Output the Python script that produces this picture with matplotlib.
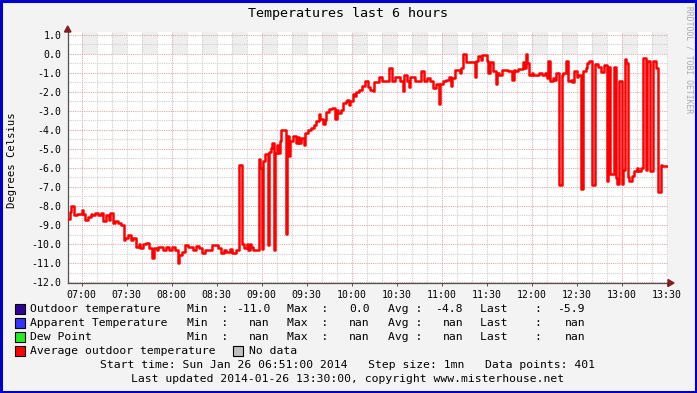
import matplotlib
matplotlib.use("Agg")
import matplotlib.pyplot as plt
from matplotlib.patches import Rectangle, Polygon
import datetime as dt

# minutes after 06:51 where the value changes, and the value from there on
minute = [0, 1, 2, 4, 6, 9, 10, 11, 13, 15, 16, 18, 20, 22, 23, 25, 27, 28, 30, 31,
          33, 35, 37, 38, 40, 42, 43, 45, 47, 48, 50, 52, 54, 56, 57, 59, 60, 63, 65, 67,
          69, 71, 73, 74, 76, 78, 80, 83, 85, 87, 89, 91, 96,
          100, 102, 104, 105, 108, 109, 112, 114, 116, 117, 119, 120, 121, 122, 123, 127, 128,
          129, 130, 131, 133, 134, 135, 136, 137, 138, 139, 140, 141, 142, 145, 146, 147, 148,
          150, 152, 153, 154, 155, 157, 158, 160, 162, 164, 165, 167, 168, 170, 171, 172, 174,
          176, 178, 179, 180, 182, 183, 185, 186, 187, 188, 190, 191, 192, 194, 196,
          198, 200, 201, 203, 204, 207, 209, 214, 216, 218, 221, 223, 224, 226, 227, 228, 231,
          235, 237, 239, 241, 243, 245, 247, 248, 250, 252, 254, 255, 256, 258, 261, 262, 263,
          265, 271, 272, 273, 275, 276, 279, 280, 281, 283, 285, 286, 287, 289, 293, 296, 297,
          298, 300, 303, 304, 305, 306, 307, 309, 310, 314, 316, 318, 319, 320, 321, 323, 324,
          325, 327, 329, 330, 332, 333, 335, 336, 337, 339, 340, 342, 343, 345, 346, 347, 349,
          351, 353, 355, 357, 359, 360, 361, 364, 365, 366, 367, 369, 370, 371, 372, 373, 374,
          376, 377, 379, 380, 382, 383, 385, 386, 388, 390, 392, 393, 395, 396]
temp = [-8.7, -8.3, -8.0, -8.5, -8.4, -8.2, -8.4, -8.75, -8.6, -8.4, -8.5, -8.35, -8.47, -8.35, -8.8, -8.5, -8.75, -8.35, -8.9, -8.8,
        -8.9, -9.0, -9.8, -9.7, -9.5, -9.8, -9.7, -10.15, -10.0, -10.2, -10.0, -9.95, -10.2, -10.75, -10.2, -10.3, -10.15, -10.3, -10.15, -10.3,
        -10.15, -10.3, -11.0, -10.6, -10.4, -10.05, -10.15, -10.3, -10.1, -10.2, -10.45, -10.3, -10.05,
        -10.2, -10.45, -10.3, -10.4, -10.25, -10.45, -10.3, -5.85, -10.0, -10.2, -10.0, -10.3, -10.0, -10.15, -10.3, -5.55, -6.0,
        -10.25, -5.65, -5.25, -10.05, -5.15, -4.95, -4.7, -10.3, -5.2, -4.8, -5.2, -4.6, -4.0, -9.45, -4.3, -5.35, -4.6,
        -4.3, -4.7, -4.35, -4.7, -4.45, -4.8, -4.15, -4.0, -3.9, -3.75, -3.55, -3.15, -3.4, -3.7, -3.5, -3.05, -2.9,
        -2.85, -3.4, -2.95, -3.1, -2.95, -2.6, -2.5, -2.4, -2.7, -2.5, -2.1, -2.2, -2.0, -1.9, -1.7,
        -1.45, -1.75, -1.9, -1.95, -1.5, -1.2, -1.45, -0.75, -1.45, -1.2, -1.45, -1.95, -1.1, -1.45, -1.75, -1.2, -1.45,
        -0.9, -1.45, -1.25, -1.45, -1.8, -1.6, -2.65, -1.6, -1.45, -1.35, -1.2, -1.7, -1.25, -0.85, -1.0, -0.75, 0.0,
        -0.45, -1.2, -0.4, -0.1, -0.3, -0.05, -0.4, -1.0, -0.45, -0.9, -1.6, -1.0, -1.1, -0.85, -0.9, -1.35, -0.85,
        -0.9, -0.82, -0.42, -0.75, 0.0, -0.47, -1.1, -1.0, -1.1, -1.0, -1.1, -1.0, -1.25, -0.4, -1.45, -1.25, -1.35,
        -1.0, -6.9, -1.1, -1.0, -0.4, -1.45, -1.35, -1.5, -0.9, -1.2, -1.1, -7.1, -0.88, -0.75, -0.47, -0.4, -6.9,
        -0.55, -0.7, -0.95, -0.6, -6.7, -0.7, -6.3, -0.67, -6.55, -6.85, -1.45, -6.85, -6.1, -0.25, -0.5, -6.45, -6.7,
        -6.4, -6.15, -6.0, -6.15, -6.0, -0.2, -6.1, -0.37, -6.15, -0.4, -0.72, -7.25, -5.85, -5.9]

legend_names = ["Outdoor temperature", "Apparent Temperature", "Dew Point"]
legend_colors = ["#330099", "#3333ff", "#22ee22"]
stat_min = ["-11.0", "nan", "nan"]
stat_max = ["0.0", "nan", "nan"]
stat_avg = ["-4.8", "nan", "nan"]
stat_last = ["-5.9", "nan", "nan"]

W, H = 697, 393
start = dt.datetime(2014, 1, 26, 6, 51)
mono = "DejaVu Sans Mono"


def fx(x):
    return x / W


def fy(y):
    return 1 - y / H


fig = plt.figure(figsize=(W / 100, H / 100), dpi=100, facecolor="#f3f3f3")
ax = fig.add_axes([fx(68), fy(283), 600 / W, (283 - 32) / H])
ax.set_facecolor("white")
ax.set_xlim(0, 400)
ax.set_ylim(-12.05, 1.15)

# alternating shaded blocks above zero
for m0 in range(9, 400, 20):
    ax.add_patch(Rectangle((m0, 0), 10, 1.15, facecolor="#eeeeee", edgecolor="none", zorder=0))

# grid
for m in range(9, 400, 10):
    major = (m - 9) % 60 == 0
    ax.axvline(m, color="#dfaaaa" if major else "#cfcfcf", lw=0.8,
               ls=(0, (1, 1)), zorder=1)
for k in range(-24, 3):
    v = k / 2
    major = k % 2 == 0
    ax.axhline(v, color="#dfaaaa" if major else "#cfcfcf", lw=0.8,
               ls=(0, (1, 1)), zorder=1)

ax.step(minute + [400], temp + [temp[-1]], where="post", color="#ff0000", lw=1.8, zorder=3)

xt = list(range(9, 400, 30))
ax.set_xticks(xt)
ax.set_xticklabels([(start + dt.timedelta(minutes=m)).strftime("%H:%M") for m in xt],
                   family=mono, fontsize=7.1)
yt = [float(v) for v in range(-12, 2)]
ax.set_yticks(yt)
ax.set_yticklabels(["%.1f" % v for v in yt], family=mono, fontsize=7.1)
ax.tick_params(axis="y", length=0, pad=4.5)
ax.tick_params(axis="x", length=2, pad=3, color="#505050", width=0.7)
for s in ["top", "right"]:
    ax.spines[s].set_visible(False)
for s in ["left", "bottom"]:
    ax.spines[s].set_color("#505050")
    ax.spines[s].set_linewidth(0.9)

# axis arrows
fig.patches.append(Polygon([(fx(67.7), fy(26)), (fx(64.5), fy(32)), (fx(71), fy(32))],
                           closed=True, transform=fig.transFigure, color="#7f1f1f"))
fig.patches.append(Polygon([(fx(674), fy(283)), (fx(668), fy(279.5)), (fx(668), fy(286.5))],
                           closed=True, transform=fig.transFigure, color="#7f1f1f"))

fig.text(fx(348), fy(14), "Temperatures last 6 hours", family=mono, fontsize=9.6,
         ha="center", va="center")
fig.text(fx(12), fy(160), "Degrees Celsius", family=mono, fontsize=7.6,
         rotation=90, ha="center", va="center")
fig.text(fx(689), fy(60), "RRDTOOL / TOBI OETIKER", family=mono, fontsize=5.8,
         rotation=-90, ha="center", va="center", color="#aaaaaa")

# legend
rows_y = [309, 323, 337]
fs = 8.2
for i, y in enumerate(rows_y):
    fig.patches.append(Rectangle((fx(15), fy(y + 5)), 10 / W, 10 / H, transform=fig.transFigure,
                                 facecolor=legend_colors[i], edgecolor="black", lw=0.8))
    fig.text(fx(30), fy(y), legend_names[i], family=mono, fontsize=fs, va="center")
    fig.text(fx(187), fy(y), "Min  :", family=mono, fontsize=fs, va="center")
    fig.text(fx(270), fy(y), stat_min[i], family=mono, fontsize=fs, va="center", ha="right")
    fig.text(fx(287), fy(y), "Max  :", family=mono, fontsize=fs, va="center")
    fig.text(fx(370), fy(y), stat_max[i], family=mono, fontsize=fs, va="center", ha="right")
    fig.text(fx(388), fy(y), "Avg :", family=mono, fontsize=fs, va="center")
    fig.text(fx(463), fy(y), stat_avg[i], family=mono, fontsize=fs, va="center", ha="right")
    fig.text(fx(480), fy(y), "Last    :", family=mono, fontsize=fs, va="center")
    fig.text(fx(585), fy(y), stat_last[i], family=mono, fontsize=fs, va="center", ha="right")

fig.patches.append(Rectangle((fx(15), fy(356)), 10 / W, 10 / H, transform=fig.transFigure,
                             facecolor="#ff0000", edgecolor="black", lw=0.8))
fig.text(fx(30), fy(351), "Average outdoor temperature", family=mono, fontsize=fs, va="center")
fig.patches.append(Rectangle((fx(233), fy(356)), 10 / W, 10 / H, transform=fig.transFigure,
                             facecolor="#c0c0c0", edgecolor="black", lw=0.8))
fig.text(fx(249), fy(351), "No data", family=mono, fontsize=fs, va="center")

fig.text(fx(348), fy(365), "Start time: Sun Jan 26 06:51:00 2014   Step size: 1mn   Data points: 401",
         family=mono, fontsize=fs, ha="center", va="center")
fig.text(fx(348), fy(379), "Last updated 2014-01-26 13:30:00, copyright www.misterhouse.net",
         family=mono, fontsize=fs, ha="center", va="center")

# blue frame
fig.patches.append(Rectangle((fx(1.2), fy(391.8)), 694.6 / W, 390.6 / H, transform=fig.transFigure,
                             facecolor="none", edgecolor="#0000cc", lw=2.2))

fig.savefig("out.png", dpi=100, facecolor=fig.get_facecolor())
